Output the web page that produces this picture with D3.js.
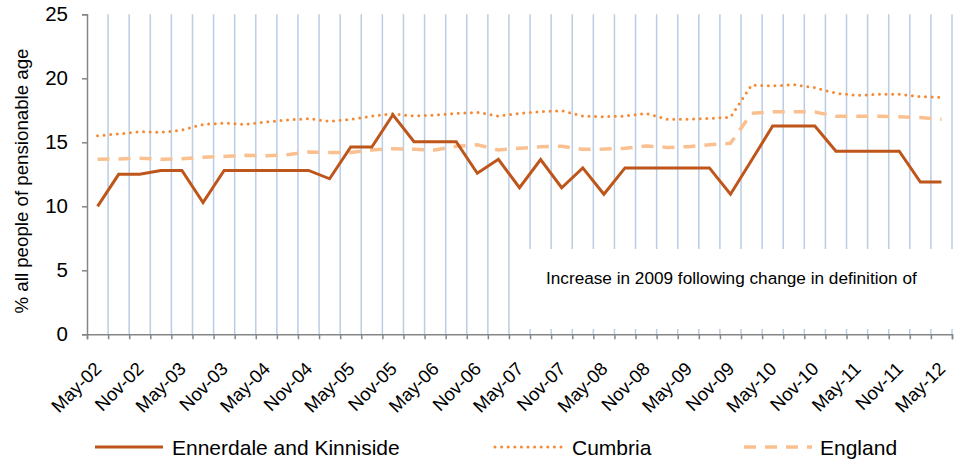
<!DOCTYPE html>
<html><head><meta charset="utf-8">
<script src="https://cdn.jsdelivr.net/npm/d3@7"></script>
<style>body{margin:0;background:#fff;} svg{display:block;font-family:"Liberation Sans",Arial,sans-serif;}</style>
</head><body><svg id="c" width="955" height="462"></svg>
<script>
const categories = ["May-02","Aug-02","Nov-02","Feb-03","May-03","Aug-03","Nov-03","Feb-04","May-04","Aug-04","Nov-04","Feb-05","May-05","Aug-05","Nov-05","Feb-06","May-06","Aug-06","Nov-06","Feb-07","May-07","Aug-07","Nov-07","Feb-08","May-08","Aug-08","Nov-08","Feb-09","May-09","Aug-09","Nov-09","Feb-10","May-10","Aug-10","Nov-10","Feb-11","May-11","Aug-11","Nov-11","Feb-12","May-12"];
const ennerdale = [10.0,12.5,12.5,12.8,12.8,10.3,12.8,12.8,12.8,12.8,12.8,12.15,14.63,14.63,17.15,15.05,15.05,15.05,12.58,13.67,11.45,13.65,11.45,13.0,10.94,13.0,13.0,13.0,13.0,13.0,10.94,13.6,16.27,16.27,16.27,14.3,14.3,14.3,14.3,11.9,11.9];
const cumbria = [15.52,15.65,15.83,15.78,15.95,16.4,16.5,16.4,16.6,16.74,16.85,16.64,16.8,17.05,17.23,17.05,17.13,17.26,17.34,17.05,17.26,17.39,17.47,17.05,17.0,17.05,17.26,16.8,16.8,16.87,16.95,19.48,19.4,19.5,19.27,18.83,18.67,18.75,18.75,18.57,18.52];
const england = [13.67,13.7,13.75,13.67,13.72,13.83,13.9,13.98,13.95,14.03,14.24,14.2,14.2,14.4,14.5,14.45,14.4,14.69,14.8,14.4,14.53,14.66,14.69,14.45,14.47,14.53,14.71,14.6,14.66,14.8,14.92,17.26,17.39,17.39,17.37,17.03,17.03,17.03,17.0,16.93,16.8];
const yTicks = [0,5,10,15,20,25];
const seriesNames = ["Ennerdale and Kinniside","Cumbria","England"];
const yTitle = "% all people of pensionable age";
const note = "Increase in 2009 following change in definition of";

const svg = d3.select("#c");
const L = 87, R = 952, T = 14.3, B = 334.3;
const x = d3.scaleBand().domain(categories).range([L, R]).padding(0);
const xi = d3.scaleLinear().domain([0, categories.length]).range([L, R]);
const y = d3.scaleLinear().domain([0, 25]).range([B, T]);
const cx = c => x(c) + x.bandwidth()/2;

// gridlines
svg.append("g").selectAll("line").data(d3.range(1, categories.length + 1)).join("line")
  .attr("x1", d => xi(d)).attr("x2", d => xi(d)).attr("y1", T).attr("y2", B)
  .attr("stroke", "#b9cde5").attr("stroke-width", 1.5);

// note box
svg.append("rect").attr("x", 520).attr("y", 249).attr("width", 440).attr("height", 80).attr("fill", "#fff");
svg.append("text").attr("x", 546).attr("y", 284).attr("font-size", 17.2).attr("fill", "#000").text(note);

// axes
const gy = svg.append("g").attr("transform", `translate(${L},0)`)
  .call(d3.axisLeft(y).tickValues(yTicks).tickSize(5).tickPadding(14).tickFormat(d3.format("d")));
gy.select(".domain").attr("stroke", "#868686").attr("stroke-width", 1.5);
gy.selectAll(".tick line").attr("stroke", "#868686").attr("stroke-width", 1.5);
gy.selectAll(".tick text").attr("font-size", 20.5).attr("fill", "#000").attr("font-family", "Liberation Sans, Arial, sans-serif");

const gx = svg.append("g").attr("transform", `translate(0,${B})`)
  .call(d3.axisBottom(xi).tickValues(d3.range(0, categories.length + 1)).tickSize(5).tickFormat(""));
gx.select(".domain").attr("stroke", "#868686").attr("stroke-width", 1.5);
gx.selectAll(".tick line").attr("stroke", "#868686").attr("stroke-width", 1.5);

svg.append("g").selectAll("text").data(categories.filter((c, i) => i % 2 === 0)).join("text")
  .attr("transform", d => `translate(${cx(d) + 5},370) rotate(-45)`)
  .attr("text-anchor", "end").attr("font-size", 18.5).attr("fill", "#000").text(d => d);

svg.append("text").attr("transform", `translate(28,181) rotate(-90)`).attr("text-anchor", "middle")
  .attr("font-size", 18.7).attr("fill", "#000").text(yTitle);

// lines
const line = d3.line().x((d, i) => cx(categories[i])).y(d => y(d));
svg.append("path").datum(england).attr("d", line).attr("fill", "none")
  .attr("stroke", "#fac090").attr("stroke-width", 3.5).attr("stroke-dasharray", "12,9");
svg.append("path").datum(cumbria).attr("d", line).attr("fill", "none")
  .attr("stroke", "#f68a33").attr("stroke-width", 3).attr("stroke-dasharray", "0,6.6").attr("stroke-linecap", "round");
svg.append("path").datum(ennerdale).attr("d", line).attr("fill", "none")
  .attr("stroke", "#be561c").attr("stroke-width", 3).attr("stroke-linejoin", "miter");

// legend
const leg = [
  {name: seriesNames[0], x1: 95, x2: 163, tx: 172, color: "#be561c", dash: null, cap: "butt", w: 3},
  {name: seriesNames[1], x1: 495, x2: 562, tx: 572, color: "#f68a33", dash: "0,6.6", cap: "round", w: 3},
  {name: seriesNames[2], x1: 744, x2: 812, tx: 820, color: "#fac090", dash: "12,9", cap: "butt", w: 3.5}
];
const lg = svg.append("g").selectAll("g").data(leg).join("g");
lg.append("line").attr("x1", d => d.x1).attr("x2", d => d.x2).attr("y1", 447).attr("y2", 447)
  .attr("stroke", d => d.color).attr("stroke-width", d => d.w).attr("stroke-dasharray", d => d.dash).attr("stroke-linecap", d => d.cap);
lg.append("text").attr("x", d => d.tx).attr("y", 455).attr("font-size", 21).attr("fill", "#000").text(d => d.name);
</script></body></html>
